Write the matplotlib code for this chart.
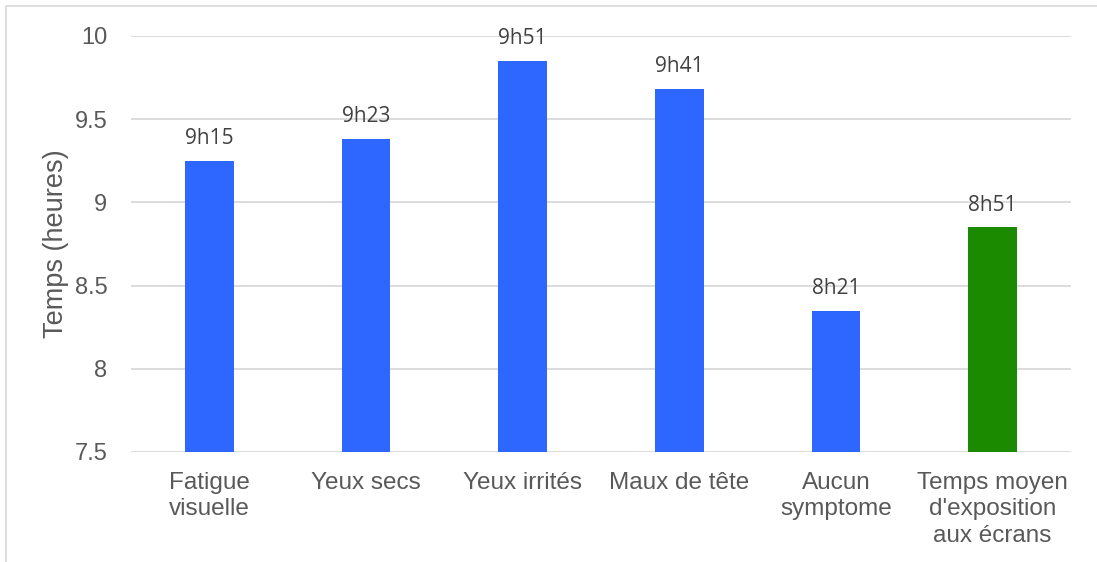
import matplotlib.pyplot as plt
from matplotlib.patches import Rectangle

plt.rcParams['font.family'] = ['Liberation Sans', 'DejaVu Sans']

categories = ['Fatigue\nvisuelle', 'Yeux secs', 'Yeux irrités', 'Maux de tête',
              'Aucun\nsymptome', "Temps moyen\nd'exposition\naux écrans"]
hours = [9, 9, 9, 9, 8, 8]
minutes = [15, 23, 51, 41, 21, 51]
values = [h + m / 60 for h, m in zip(hours, minutes)]
labels = ['%dh%02d' % (h, m) for h, m in zip(hours, minutes)]
colors = ['#2E67FF'] * 5 + ['#1C8A00']

W, H = 1097, 562
fig = plt.figure(figsize=(W / 100, H / 100), dpi=100)
ax = fig.add_axes([131 / W, (H - 452) / H, 940 / W, 416 / H])

x = range(len(categories))
ax.bar(x, values, width=0.31, color=colors, zorder=3)
for xi, v, lab in zip(x, values, labels):
    ax.annotate(lab, (xi, v), xytext=(0, 8.5), textcoords='offset points',
                ha='center', va='bottom', fontsize=15, color='#404040',
                family=['Open Sans', 'DejaVu Sans'])

ax.set_xlim(-0.5, len(categories) - 0.5)
ax.set_ylim(7.5, 10)
ax.set_yticks([7.5, 8, 8.5, 9, 9.5, 10])
ax.set_yticklabels(['7.5', '8', '8.5', '9', '9.5', '10'])
ax.set_xticks(list(x))
ax.set_xticklabels(categories, fontsize=17.5, color='#595959', linespacing=1.25)
ax.tick_params(axis='y', labelsize=17, labelcolor='#595959', length=0, pad=17)
ax.tick_params(axis='x', length=0, pad=14.5)
ax.grid(axis='y', color='#D9D9D9', linewidth=1.3, zorder=0)
for s in ax.spines.values():
    s.set_visible(False)
ax.set_ylabel('Temps (heures)', fontsize=19.5, color='#595959', labelpad=4)

# light frame along the left and top edges
fig.patches.append(Rectangle((6 / W, -0.1), 1.2, 1.1 - 6 / H, transform=fig.transFigure,
                             fill=False, edgecolor='#D9D9D9', linewidth=1.2))

fig.savefig('out.png', dpi=100)
